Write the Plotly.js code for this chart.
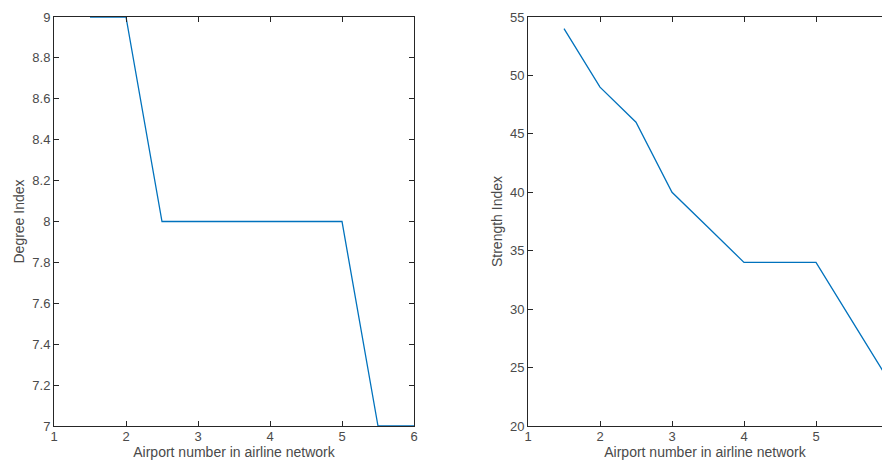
<!DOCTYPE html>
<html>
<head>
<meta charset="utf-8">
<script src="https://cdn.plot.ly/plotly-3.0.1.min.js"></script>
<style>
  html, body { margin: 0; padding: 0; background: #fff; }
  #chart { width: 882px; height: 463px; }
</style>
</head>
<body>
<div id="chart"></div>
<script>
// Airport ranking positions and the two centrality indices
const airportX = [1.5, 2, 2.5, 3, 3.5, 4, 4.5, 5, 5.5, 6];
const degreeIndex = [9, 9, 8, 8, 8, 8, 8, 8, 7, 7];
const strengthIndex = [54, 49, 46, 40, 37, 34, 34, 34, 29, 24];

const xTicks = [1, 2, 3, 4, 5, 6];
const degreeTicks = [7, 7.2, 7.4, 7.6, 7.8, 8, 8.2, 8.4, 8.6, 8.8, 9];
const strengthTicks = [20, 25, 30, 35, 40, 45, 50, 55];

const lineColor = '#0072BD';
const axisColor = '#262626';
const textColor = '#4a4a4a';
const fontFamily = '"Liberation Sans", Arial, Helvetica, sans-serif';

const traces = [
  { x: airportX, y: degreeIndex, type: 'scatter', mode: 'lines',
    line: { color: lineColor, width: 1.3 }, xaxis: 'x', yaxis: 'y',
    hoverinfo: 'skip', cliponaxis: true },
  { x: airportX, y: strengthIndex, type: 'scatter', mode: 'lines',
    line: { color: lineColor, width: 1.3 }, xaxis: 'x2', yaxis: 'y2',
    hoverinfo: 'skip', cliponaxis: true }
];

const axisBase = {
  showgrid: false, zeroline: false, showline: true,
  linecolor: axisColor, linewidth: 1,
  ticks: 'inside', ticklen: 5, tickwidth: 1, tickcolor: axisColor,
  tickfont: { family: fontFamily, size: 13, color: textColor },
  automargin: false
};

const titleFont = { family: fontFamily, size: 14, color: textColor };
const yDomain = [37 / 463, 446 / 463];

const layout = {
  width: 882, height: 463,
  margin: { l: 0, r: 0, t: 0, b: 0 },
  paper_bgcolor: '#fff', plot_bgcolor: '#fff',
  showlegend: false,
  font: { family: fontFamily, color: textColor },
  xaxis: Object.assign({}, axisBase, {
    domain: [54 / 882, 414 / 882], range: [1, 6],
    tickmode: 'array', tickvals: xTicks, ticktext: xTicks.map(String),
    mirror: 'ticks', anchor: 'y', ticklabelstandoff: -2,
    title: { text: 'Airport number in airline network', standoff: 2, font: titleFont }
  }),
  yaxis: Object.assign({}, axisBase, {
    domain: yDomain, range: [7, 9],
    tickmode: 'array', tickvals: degreeTicks, ticktext: degreeTicks.map(String),
    mirror: 'ticks', anchor: 'x',
    title: { text: 'Degree Index', standoff: 4, font: titleFont }
  }),
  xaxis2: Object.assign({}, axisBase, {
    domain: [528 / 882, 1], range: [1, 1 + 354 / 72],
    tickmode: 'array', tickvals: xTicks.slice(0, 5), ticktext: xTicks.slice(0, 5).map(String),
    mirror: 'ticks', anchor: 'y2', ticklabelstandoff: -2,
    title: { text: 'Airport number in airline network', standoff: 2, font: titleFont }
  }),
  yaxis2: Object.assign({}, axisBase, {
    domain: yDomain, range: [20, 55],
    tickmode: 'array', tickvals: strengthTicks, ticktext: strengthTicks.map(String),
    mirror: false, anchor: 'x2',
    title: { text: 'Strength Index', standoff: 4, font: titleFont }
  })
};

Plotly.newPlot('chart', traces, layout, { staticPlot: true, displayModeBar: false });
</script>
</body>
</html>
